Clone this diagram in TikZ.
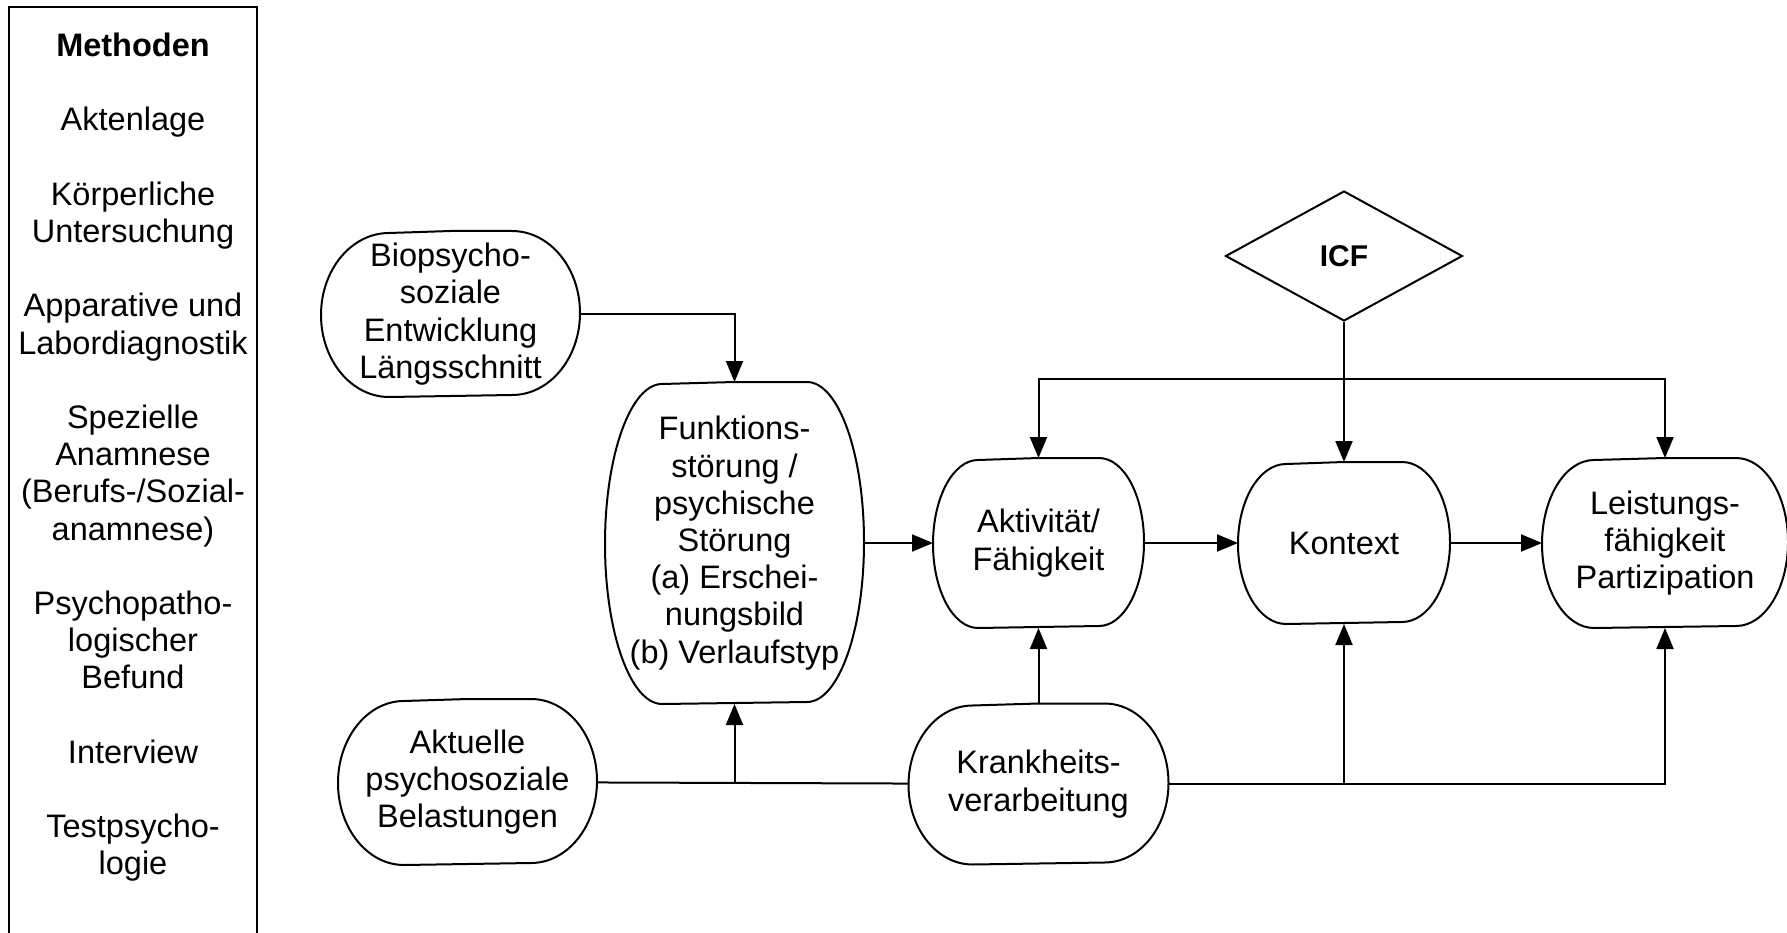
\documentclass[tikz,border=0pt]{standalone}
\usepackage{fontspec}
\setmainfont{Liberation Sans}
\usetikzlibrary{shapes.geometric,positioning,arrows.meta}
\tikzstyle{proc}=  [rectangle,
inner sep=0pt,
align=center,
]
\tikzstyle{decide}= [draw,
diamond,
inner sep=0pt,
minimum width=237pt,
minimum height=130pt,
font=\fontsize{30}{36}\selectfont\bfseries,
]
\tikzstyle{flow}=   [-{Triangle[length=21pt,width=17pt]}]
\tikzstyle{rim}=    [line width=2pt, line join=round]
% outline with flat top/bottom and elliptic sides
\newcommand{\roundproc}[3]{%
  \draw[rim] (#1.north) -- ([xshift=-#2]#1.north east)
    arc[start angle=90, end angle=-90, x radius=#2, y radius=#3]
    -- ([xshift=#2]#1.south west)
    arc[start angle=270, end angle=90, x radius=#2, y radius=#3] -- cycle;}
\newcommand{\gap}{37.2pt}

\begin{document}
\begin{tikzpicture}[x=1pt, y=-1pt, font=\fontsize{32.5}{37.2}\selectfont, line width=2pt]
        \useasboundingbox (0,0) rectangle (1787,933);
        % Methoden column
        \draw[line width=2.5pt] (9,933) |- (257,7) -- (257,933);
        \node[proc, anchor=north] (methods) at (133,32) {\textbf{Methoden}\\[\gap]
            Aktenlage\\[\gap]
            Körperliche\\Untersuchung\\[\gap]
            Apparative und\\Labordiagnostik\\[\gap]
            Spezielle\\Anamnese\\(Berufs-/Sozial-\\anamnese)\\[\gap]
            Psychopatho-\\logischer\\Befund\\[\gap]
            Interview\\[\gap]
            Testpsycho-\\logie};

        \node[proc, minimum width=257pt, minimum height=320pt] (funk) at (734.5,543) {Funktions-\\störung /\\psychische\\Störung\\(a) Erschei-\\nungsbild\\(b) Verlaufstyp};
        \node[proc, minimum width=257pt, minimum height=164pt] (bio) at (450.5,314) {Biopsycho-\\soziale\\Entwicklung\\Längsschnitt};
        \node[proc, minimum width=257pt, minimum height=164pt] (aktu) at (467.5,782) {Aktuelle\\psychosoziale\\Belastungen};
        \node[proc, minimum width=209pt, minimum height=168pt, right=69pt of funk] (akt) {Aktivität/\\Fähigkeit};
        \node[proc, minimum width=210pt, minimum height=160pt, right=94pt of akt] (kon) {Kontext};
        \node[proc, minimum width=244pt, minimum height=168pt, right=92pt of kon] (leist) {Leistungs-\\fähigkeit\\Partizipation};
        \node[proc, minimum width=258pt, minimum height=159pt, below=75.5pt of akt] (krank) {Krankheits-\\verarbeitung};
        \node[decide, shape aspect=1.82, above=140pt of kon] (icf) {ICF};
        \coordinate[below=57pt of icf.south] (icfbar);

        \roundproc{funk}{57pt}{160pt}
        \roundproc{bio}{68pt}{82pt}
        \roundproc{aktu}{66pt}{82pt}
        \roundproc{akt}{45pt}{84pt}
        \roundproc{kon}{48pt}{80pt}
        \roundproc{leist}{52pt}{84pt}
        \roundproc{krank}{64pt}{79.5pt}

        \draw[flow] (bio) -| (funk);
        \draw[flow] (funk) -- (akt);
        \draw[flow] (akt) -- (kon);
        \draw[flow] (kon) -- (leist);
        \draw[flow] (icf) -- (kon);
        \draw[flow] (icfbar) -| (akt);
        \draw[flow] (icfbar) -| (leist);
        \draw (aktu) -- (krank);
        \draw[flow] (funk.south |- aktu) -- (funk);
        \draw[flow] (krank) -- (akt);
        \draw[flow] (krank) -| (leist);
        \draw[flow] (kon.south |- krank) -- (kon);
    \end{tikzpicture}
\end{document}
